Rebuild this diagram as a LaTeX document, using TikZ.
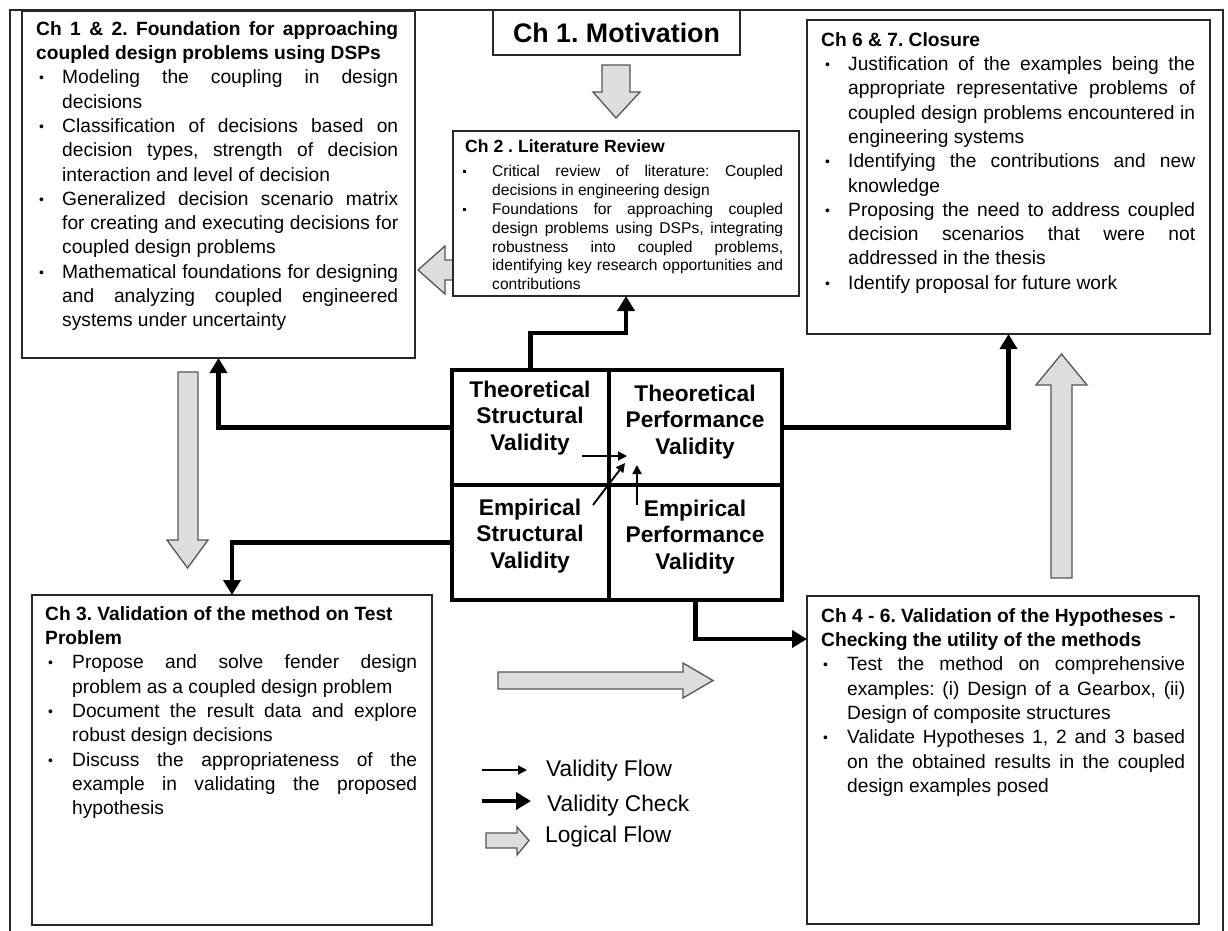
\documentclass[tikz,border=0pt]{standalone}
\usepackage{fontspec}
\setmainfont{Liberation Sans}
\usetikzlibrary{arrows.meta}

\definecolor{logicfill}{RGB}{221,221,221}
\definecolor{logicdraw}{RGB}{85,85,85}
\definecolor{boxdraw}{RGB}{40,40,40}

% bullet lists inside the chapter boxes
\newlength\bind
\newlength\boff
\newcommand\rbul{\raisebox{1pt}{\fontsize{14}{14}\selectfont •}}
\newcommand\sbul{\rule[3.6pt]{3pt}{3pt}}
\let\bmark\rbul
\newcommand\bitem[1]{\hangindent=\bind\hangafter=1\noindent\makebox[\bind][l]{\hspace{\boff}\bmark}#1\par}

\tikzset{
  box/.style={draw=boxdraw, line width=1.5pt, inner sep=0pt, outer sep=0pt, anchor=north west},
  body/.style={anchor=north west, inner sep=0pt, align=justify,
    font=\fontsize{19.2}{24.3}\selectfont},
  cell/.style={draw=black, line width=4.5pt, inner sep=0pt, outer sep=0pt, anchor=north west,
    minimum height=115pt},
  celltext/.style={font=\fontsize{22.7}{26.6}\selectfont\bfseries, align=center, inner sep=0pt},
  legendtext/.style={font=\fontsize{22.7}{26}\selectfont, anchor=west, inner sep=0pt},
  check/.style={line width=4.5pt, -{Triangle[width=17pt,length=15pt]}},
  flow/.style={line width=1.9pt, -{Triangle[width=9pt,length=9pt]}},
  logic/.style={fill=logicfill, draw=logicdraw, line width=1.3pt, line join=miter},
  frame/.style={draw=boxdraw, line width=1.5pt}
}

\begin{document}
\frenchspacing
\begin{tikzpicture}[x=1pt, y=-1pt]
\useasboundingbox (0,0) rectangle (1228,931);

% outer frame
\draw[frame] (10,931) -- (10,10) -- (1223,10) -- (1223,931);

% logical flow (grey block arrows)
\draw[logic] (602,65) -- (630,65) -- (630,92) -- (640,92) -- (616,118) -- (593,92) -- (602,92) -- cycle;
\draw[logic] (453,260) -- (445,260) -- (445,246) -- (418,270) -- (445,294) -- (445,280) -- (453,280) -- cycle;
\draw[logic] (178,372) -- (198,372) -- (198,540) -- (208,540) -- (187.5,568) -- (167,540) -- (178,540) -- cycle;
\draw[logic] (498,672) -- (683,672) -- (683,663) -- (713,680.5) -- (683,698) -- (683,689) -- (498,689) -- cycle;
\draw[logic] (1051,578) -- (1051,385) -- (1036,385) -- (1061.5,354) -- (1087,385) -- (1072,385) -- (1072,578) -- cycle;

% chapter boxes
\node[box, minimum width=393pt, minimum height=347pt] (box1) at (22,11) {};
\node[box, minimum width=247pt, minimum height=45pt,
      font=\fontsize{26.8}{30}\selectfont\bfseries] (mot) at (493,10) {Ch 1. Motivation};
\node[box, minimum width=346pt, minimum height=165pt] (lit) at (453,131) {};
\node[box, minimum width=403pt, minimum height=314pt] (clos) at (807,20) {};
\node[box, minimum width=400pt, minimum height=330pt] (ch3) at (32,595) {};
\node[box, minimum width=392pt, minimum height=328pt] (ch46) at (807,596) {};

% box texts
\node[body, text width=362pt] (t12) at (36,18) {\setlength\bind{26pt}\setlength\boff{3pt}\hyphenpenalty=10000
\noindent\strut\textbf{Ch 1 \& 2. Foundation for approaching\linebreak coupled design problems using DSPs}\par
\bitem{Modeling the coupling in design\linebreak decisions}%
\bitem{Classification of decisions based on\linebreak decision types, strength of decision\linebreak interaction and level of decision}%
\bitem{Generalized decision scenario matrix\linebreak for creating and executing decisions for\linebreak coupled design problems}%
\bitem{Mathematical foundations for designing\linebreak and analyzing coupled engineered\linebreak systems under uncertainty}};

\node[anchor=base west, inner sep=0pt, font=\fontsize{17.6}{20}\selectfont\bfseries] (lith) at (465,153) {Ch 2 . Literature Review};
\node[body, text width=320pt, font=\fontsize{15.6}{18.9}\selectfont] (litb) at (463,163) {\setlength\bind{29pt}\setlength\boff{0pt}\let\bmark\sbul\hyphenpenalty=10000
\bitem{\strut Critical review of literature: Coupled\linebreak decisions in engineering design}%
\bitem{Foundations for approaching coupled\linebreak design problems using DSPs, integrating\linebreak robustness into coupled problems,\linebreak identifying key research opportunities and\linebreak contributions}};

\node[body, text width=374pt] (t67) at (821,29) {\setlength\bind{27pt}\setlength\boff{4pt}\hyphenpenalty=10000
\noindent\strut\textbf{Ch 6 \& 7. Closure}\par
\bitem{Justification of the examples being the\linebreak appropriate representative problems of\linebreak coupled design problems encountered in\linebreak engineering systems}%
\bitem{Identifying the contributions and new\linebreak knowledge}%
\bitem{Proposing the need to address coupled\linebreak decision scenarios that were not\linebreak addressed in the thesis}%
\bitem{Identify proposal for future work}};

\node[body, text width=372pt] (t3) at (45,603) {\setlength\bind{27pt}\setlength\boff{3pt}\hyphenpenalty=10000
\noindent\strut\textbf{Ch 3. Validation of the method on Test\\Problem}\par
\bitem{Propose and solve fender design\linebreak problem as a coupled design problem}%
\bitem{Document the result data and explore\linebreak robust design decisions}%
\bitem{Discuss the appropriateness of the\linebreak example in validating the proposed\linebreak hypothesis}};

\node[body, text width=364pt] (t46) at (821,605) {\setlength\bind{26pt}\setlength\boff{2pt}\hyphenpenalty=10000
\noindent\strut\textbf{Ch 4 - 6. Validation of the Hypotheses -\\Checking the utility of the methods}\par
\bitem{Test the method on comprehensive\linebreak examples: (i) Design of a Gearbox, (ii)\linebreak Design of composite structures}%
\bitem{Validate Hypotheses 1, 2 and 3 based\linebreak on the obtained results in the coupled\linebreak design examples posed}};

% validity matrix
\node[cell, minimum width=157pt] (ts) at (452,370) {};
\node[cell, minimum width=173pt] (tp) at (609,370) {};
\node[cell, minimum width=157pt] (es) at (452,485) {};
\node[cell, minimum width=173pt] (ep) at (609,485) {};
\node[celltext] (tstext) at (530,418) {Theoretical\\Structural\\Validity};
\node[celltext] (tptext) at (695,422) {Theoretical\\Performance\\Validity};
\node[celltext] (estext) at (530,536) {Empirical\\Structural\\Validity};
\node[celltext] (eptext) at (695,537) {Empirical\\Performance\\Validity};

% validity flow inside the matrix
\coordinate (fs1) at (582,456); \coordinate (fs2) at (627,456);
\coordinate (fe1) at (593,505); \coordinate (fe2) at (625,463);
\coordinate (fp1) at (637,505); \coordinate (fp2) at (637,465);
\draw[flow] (fs1) -- (fs2);
\draw[flow] (fe1) -- (fe2);
\draw[flow] (fp1) -- (fp2);

% validity checks
\draw[check] (ts.north) -- ++(0,-37) -| (lit.south);
\draw[check] (ts.west) -| (box1.south);
\draw[check] (es.west) -| (ch3.north);
\draw[check] (tp.east) -| (clos.south);
\draw[check] (ep.south) |- ([yshift=-43pt]ch46.north west);

% legend
\coordinate (l1a) at (482,770); \coordinate (l1b) at (527,770);
\coordinate (l2a) at (482,801); \coordinate (l2b) at (531,801);
\draw[flow] (l1a) -- (l1b);
\draw[check] (l2a) -- (l2b);
\draw[logic] (486,833) -- (517,833) -- (517,827) -- (529,840.5) -- (517,855) -- (517,848) -- (486,848) -- cycle;
\node[legendtext] (lg1) at (546,771) {Validity Flow};
\node[legendtext] (lg2) at (547,806) {Validity Check};
\node[legendtext] (lg3) at (545,837) {Logical Flow};
\end{tikzpicture}
\end{document}
